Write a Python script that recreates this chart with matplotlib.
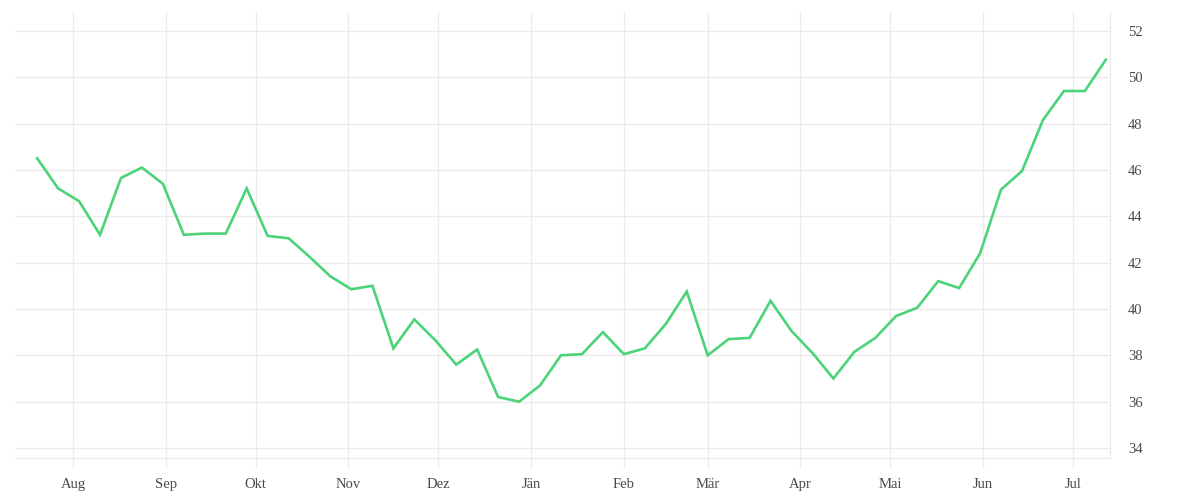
import matplotlib
matplotlib.use("Agg")
import matplotlib.pyplot as plt
import matplotlib.dates as mdates
import pandas as pd

# weekly values
start_date = "2022-07-20"
values = [46.5, 45.2, 44.65, 43.2, 45.65, 46.1, 45.4, 43.2, 43.25, 43.25,
          45.2, 43.15, 43.05, 42.25, 41.4, 40.85, 41.0, 38.3, 39.55, 38.65,
          37.6, 38.25, 36.2, 36.0, 36.7, 38.0, 38.05, 39.0, 38.05, 38.3,
          39.35, 40.75, 38.0, 38.7, 38.75, 40.35, 39.05, 38.1, 37.0, 38.15,
          38.75, 39.7, 40.05, 41.2, 40.9, 42.4, 45.15, 45.95, 48.15, 49.4,
          49.4, 50.75]
month_labels = ["Aug", "Sep", "Okt", "Nov", "Dez", "Jän", "Feb", "Mär",
                "Apr", "Mai", "Jun", "Jul"]
y_ticks = [34, 36, 38, 40, 42, 44, 46, 48, 50, 52]

dates = pd.date_range(start_date, periods=len(values), freq="7D")
month_starts = pd.date_range("2022-08-01", periods=len(month_labels), freq="MS")

grid_col = "#ebebeb"
text_col = "#4a4a4a"

fig = plt.figure(figsize=(12, 5), dpi=100)
ax = fig.add_axes([0.0125, 0.084, 0.9125, 0.892])

ax.plot(dates, values, color="#4cd37a", lw=1.9, solid_joinstyle="miter", zorder=3)

ax.set_xlim(dates[0] - pd.Timedelta(days=7.4), dates[-1] + pd.Timedelta(days=1.4))
ax.set_ylim(33.57, 52.81)

ax.set_xticks(month_starts)
ax.set_xticklabels(month_labels)
ax.yaxis.tick_right()
ax.set_yticks(y_ticks)
ax.set_yticklabels([str(t) for t in y_ticks])

ax.grid(True, color=grid_col, lw=1)
ax.set_axisbelow(True)
for side in ["top", "left"]:
    ax.spines[side].set_visible(False)
ax.spines["right"].set_color(grid_col)
ax.spines["bottom"].set_color(grid_col)

ax.tick_params(axis="x", length=7.2, width=1, color=grid_col, pad=7,
               labelsize=10.5, labelcolor=text_col)
ax.tick_params(axis="y", length=0, pad=13, labelsize=10.5, labelcolor=text_col)
for lab in ax.get_xticklabels() + ax.get_yticklabels():
    lab.set_family(["Liberation Serif", "DejaVu Serif"])

fig.savefig("out.png", dpi=100, facecolor="white")
